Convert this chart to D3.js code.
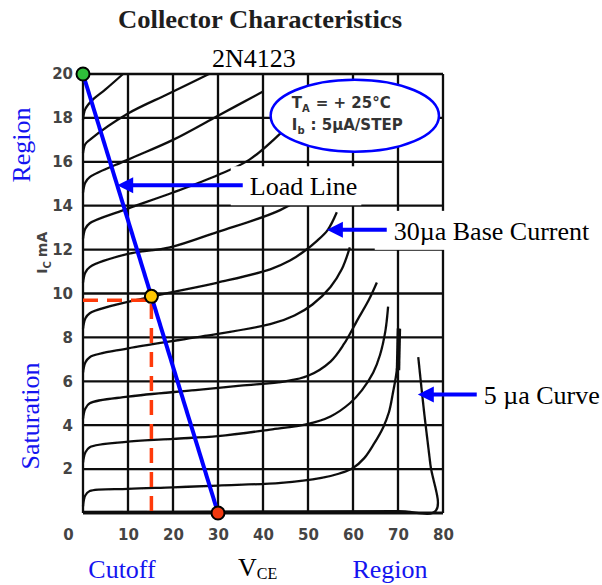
<!DOCTYPE html>
<html lang="en">
<head>
<meta charset="UTF-8">
<title>Collector Characteristics</title>
<script src="https://cdn.jsdelivr.net/npm/d3@7"></script>
<style>
  body { margin: 0; background: #fff; }
  svg { display: block; }
</style>
</head>
<body>
<script>
// axis ticks (V_CE in volts, I_C in mA)
const vTicks = [0, 10, 20, 30, 40, 50, 60, 70, 80]
const iTicks = [0, 2, 4, 6, 8, 10, 12, 14, 16, 18, 20]

// collector curves, [V_CE, I_C]
const ib5 = [[0, 0.05], [40, 0.07], [70, 0.08], [78.4, 0.1], [77.2, 2.2], [75.8, 4.6], [74.5, 7.1]]
const ib10 = [[0, 0.3], [0.5, 0.8], [1.5, 1.0], [10, 1.1], [20, 1.17], [30, 1.25], [44, 1.37], [53, 1.6], [57, 1.8], [60, 2.05], [62.5, 2.5], [64.5, 3.1], [66.7, 3.9], [68, 4.6], [68.9, 5.5], [69.6, 6.3], [70, 7.0], [70.2, 8.4]]
const ib15 = [[0, 2.3], [0.5, 2.75], [1.5, 3.0], [10, 3.25], [20, 3.38], [30, 3.5], [41.6, 3.8], [49.8, 4.05], [55, 4.4], [59.3, 5.0], [62, 5.6], [64.5, 6.4], [66, 7.2], [67.2, 8.3], [67.8, 9.4]]
const ib20 = [[0, 4.3], [0.5, 4.75], [1.5, 5.0], [10, 5.3], [25, 5.6], [35, 5.8], [45, 6.0], [50, 6.25], [55, 6.9], [58, 7.7], [61, 8.8], [63.5, 9.7], [65.3, 10.5]]
const ib25 = [[0, 6.4], [0.5, 6.85], [1.5, 7.1], [10, 7.5], [25, 8.0], [41.6, 8.6], [47, 9.0], [51, 9.5], [55, 10.3], [57.5, 11.1], [59.3, 12.1]]
const ib30 = [[0, 8.4], [0.5, 8.85], [1.5, 9.1], [15, 9.85], [30, 10.5], [41.6, 11.1], [46, 11.5], [49, 11.9], [52, 12.4], [54.4, 12.9], [56.4, 13.7]]
const ib35 = [[0, 10.5], [0.5, 10.95], [1.5, 11.2], [10, 11.8], [19.3, 12.1], [29.8, 12.8], [43.8, 13.8], [50, 14.6], [54, 15.5]]
const ib40 = [[0, 12.5], [0.5, 12.95], [1.5, 13.2], [9, 13.8], [20, 14.6], [30, 15.4], [37, 16.1], [44.4, 17.4], [48, 18.2]]
const ib45 = [[0, 14.6], [0.5, 15.05], [1.5, 15.3], [10, 16.1], [20, 17.0], [30, 18.1], [40, 19.2]]
const ib50 = [[0, 16.4], [0.5, 16.8], [1.5, 17.0], [10, 18.2], [19, 19.1], [28, 20.0]]
const ib55 = [[0, 17.9], [0.5, 18.4], [2, 18.8], [5, 19.3], [8.9, 20.0]]
const thickSpike = [[70, 6.5], [70.2, 8.4]]

const loadLine = [[0, 20], [30, 0]]
const qPoint = [15.2, 9.87]

// annotations: label, arrow tip [V, I], arrow tail V
const noteLabels = ['Load Line', '30\u00b5a Base Current', '5 \u00b5a Curve']
const noteTips = [[7.6, 14.93], [54.2, 12.9], [74.4, 5.4]]
const noteTails = [35.5, 67.5, 87.5]

const width = 602
const height = 585

const svg = d3.select('body').append('svg')
  .attr('width', width)
  .attr('height', height)

svg.append('defs').append('filter').attr('id', 'scan')
  .append('feGaussianBlur').attr('stdDeviation', 0.45)

const x = d3.scaleLinear().domain([0, 80]).range([83, 443])
const y = d3.scaleLinear().domain([0, 20]).range([513, 74])

const serif = '"Liberation Serif", "Times New Roman", serif'
const blue = '#0000ff'

// title
svg.append('text')
  .attr('x', 118).attr('y', 28)
  .attr('font-family', serif).attr('font-weight', 'bold').attr('font-size', 26)
  .attr('fill', '#1e1e1e')
  .attr('textLength', 284).attr('lengthAdjust', 'spacingAndGlyphs')
  .text('Collector Characteristics')

svg.append('text')
  .attr('x', 212).attr('y', 67)
  .attr('font-family', serif).attr('font-size', 26)
  .text('2N4123')

const chart = svg.append('g').attr('filter', 'url(#scan)')

// grid
chart.append('g').selectAll('line.v')
  .data(vTicks).enter().append('line')
  .attr('x1', d => x(d)).attr('x2', d => x(d))
  .attr('y1', y(0)).attr('y2', y(20))
  .attr('stroke', '#111').attr('stroke-width', 2.3)
chart.append('g').selectAll('line.h')
  .data(iTicks).enter().append('line')
  .attr('x1', x(0)).attr('x2', x(80))
  .attr('y1', d => y(d)).attr('y2', d => y(d))
  .attr('stroke', '#111').attr('stroke-width', d => d === 0 ? 3 : 2.3)

// curves
const line = d3.line()
  .x(d => x(d[0]))
  .y(d => y(d[1]))
  .curve(d3.curveCatmullRom.alpha(0.5))

const curves = [ib5, ib10, ib15, ib20, ib25, ib30, ib35, ib40, ib45, ib50, ib55]
chart.append('g').selectAll('path')
  .data(curves).enter().append('path')
  .attr('d', line)
  .attr('fill', 'none')
  .attr('stroke', '#111')
  .attr('stroke-width', 2.3)
chart.append('path')
  .datum(thickSpike)
  .attr('d', d3.line().x(d => x(d[0])).y(d => y(d[1])))
  .attr('stroke', '#111').attr('stroke-width', 4.5)

// tick labels
const tickFont = g => g
  .attr('font-family', '"DejaVu Sans", sans-serif')
  .attr('font-weight', 'bold')
  .attr('font-size', 15)
  .call(g => g.select('.domain').remove())
  .call(g => g.selectAll('text').attr('fill', '#444'))

svg.append('g')
  .attr('transform', `translate(${x(0)},0)`)
  .call(d3.axisLeft(y).tickValues(iTicks.filter(d => d > 0)).tickSize(0).tickPadding(10))
  .call(tickFont)
svg.append('g')
  .attr('transform', `translate(0,${y(0)})`)
  .call(d3.axisBottom(x).tickValues(vTicks).tickSize(0).tickPadding(16))
  .call(tickFont)
  .call(g => g.selectAll('.tick text').filter(d => d === 0).attr('dx', -15))

// I_C mA
svg.append('text')
  .attr('transform', `translate(47,${y(10.9)}) rotate(-90)`)
  .attr('font-family', '"DejaVu Sans", sans-serif')
  .attr('font-weight', 'bold').attr('font-size', 14).attr('fill', '#444')
  .call(t => {
    t.append('tspan').text('I')
    t.append('tspan').attr('dy', 4).attr('font-size', 10).text('C')
    t.append('tspan').attr('dy', -4).attr('dx', 4).text('mA')
  })

// info ellipse
const ecx = x(60.4), ecy = y(18.1)
svg.append('ellipse')
  .attr('cx', ecx).attr('cy', ecy).attr('rx', x(18.7) - x(0)).attr('ry', y(0) - y(1.64))
  .attr('fill', '#fff').attr('stroke', blue).attr('stroke-width', 2.5)
const infoText = svg.append('g')
  .attr('font-family', '"DejaVu Sans", sans-serif')
  .attr('font-weight', 'bold').attr('font-size', 15).attr('fill', '#333')
infoText.append('text').attr('x', ecx - 63).attr('y', ecy - 8)
  .call(t => {
    t.append('tspan').text('T')
    t.append('tspan').attr('dy', 4).attr('font-size', 10).text('A')
    t.append('tspan').attr('dy', -4).attr('dx', 6).text('= + 25\u00b0C')
  })
infoText.append('text').attr('x', ecx - 63).attr('y', ecy + 14)
  .call(t => {
    t.append('tspan').text('I')
    t.append('tspan').attr('dy', 4).attr('font-size', 10).text('b')
    t.append('tspan').attr('dy', -4).attr('dx', 6).text(': 5\u00b5A/STEP')
  })

// annotations with white label boxes
noteLabels.forEach((label, i) => {
  const tip = noteTips[i]
  const tx = x(tip[0]), ty = y(tip[1])
  const tailX = x(noteTails[i])
  const box = svg.append('rect').attr('fill', '#fff')
  const txt = svg.append('text')
    .attr('x', tailX + 7).attr('y', ty + 10)
    .attr('font-family', serif).attr('font-size', 26)
    .text(label)
  const bb = txt.node().getBBox()
  if (i < 2) {
    box.attr('x', tailX - 12).attr('y', bb.y - 6)
      .attr('width', bb.x + bb.width - tailX + 16).attr('height', bb.height + 10)
  }
  svg.append('line')
    .attr('x1', tailX).attr('x2', tx + 12)
    .attr('y1', ty).attr('y2', ty)
    .attr('stroke', blue).attr('stroke-width', 4)
  svg.append('path')
    .attr('d', `M${tx},${ty}L${tx + 16},${ty - 8}L${tx + 16},${ty + 8}Z`)
    .attr('fill', blue)
})

// Q point guides
svg.append('path')
  .attr('d', `M${x(0)},${y(qPoint[1]) + 4}H${x(qPoint[0])}V${y(0)}`)
  .attr('fill', 'none')
  .attr('stroke', '#ff3a0a').attr('stroke-width', 3.5)
  .attr('stroke-dasharray', '15,9')

// load line
svg.append('path')
  .datum(loadLine)
  .attr('d', d3.line().x(d => x(d[0])).y(d => y(d[1])))
  .attr('stroke', blue).attr('stroke-width', 4)

const dots = [[loadLine[0], '#2fbf3a'], [qPoint, '#ffc600'], [loadLine[1], '#f2380f']]
svg.append('g').selectAll('circle')
  .data(dots).enter().append('circle')
  .attr('cx', d => x(d[0][0])).attr('cy', d => y(d[0][1]))
  .attr('r', 6.5)
  .attr('fill', d => d[1])
  .attr('stroke', '#000').attr('stroke-width', 2)

// side and bottom labels
const blueText = (tx, ty, rot, s) => svg.append('text')
  .attr('transform', `translate(${tx},${ty}) rotate(${rot})`)
  .attr('text-anchor', 'middle')
  .attr('font-family', serif).attr('font-size', 26).attr('fill', '#1414f0')
  .text(s)
blueText(30, 145, -90, 'Region')
blueText(39, 416, -90, 'Saturation')
blueText(122, 578, 0, 'Cutoff')
blueText(390, 578, 0, 'Region')

svg.append('text')
  .attr('x', 238).attr('y', 576)
  .attr('font-family', serif).attr('font-size', 26)
  .call(t => {
    t.append('tspan').text('V')
    t.append('tspan').attr('dy', 3).attr('font-size', 16).text('CE')
  })
</script>
</body>
</html>
